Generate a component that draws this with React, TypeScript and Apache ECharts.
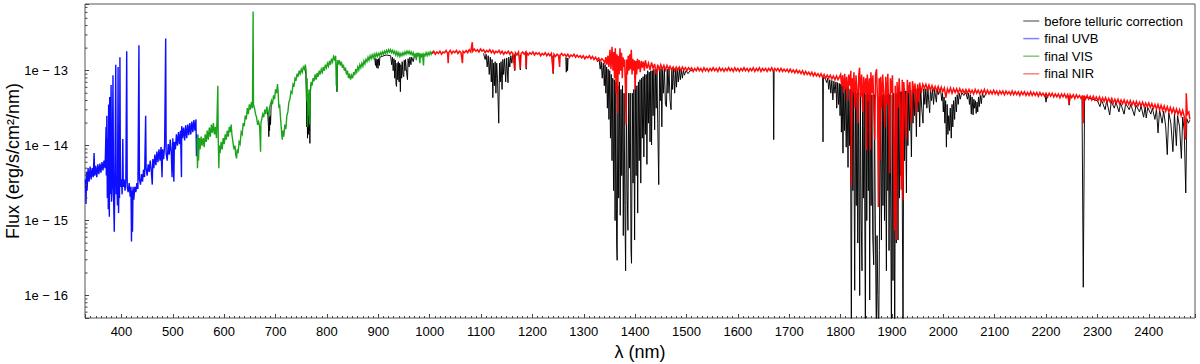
import React, { useEffect, useRef } from "react";
import * as echarts from "echarts";

// Axis extents (wavelength in nm, log10 of flux in erg/s/cm²/nm)
const X_MIN = 329;
const X_MAX = 2490;
const Y_MIN = -16.3;
const Y_MAX = -12.11;

// log-axis minor tick mantissas and decades
const minorMantissas = [2, 3, 4, 5, 6, 7, 8, 9];
const minorDecades = [-17, -16, -15, -14, -13];

const legendNames = ["before telluric correction", "final UVB", "final VIS", "final NIR"];

// [wavelength nm, log10 flux]
const uvbLogFlux = [
  [330, -14.45], [331, -14.78], [332, -14.35], [333, -14.6], [335, -14.3], [337, -14.48], [339, -14.28], [341, -14.45],
  [343, -14.3], [345, -14.42], [346.7, -14.1], [348, -14.4], [350, -14.27], [352, -14.42], [354, -14.25], [356, -14.38],
  [358, -14.24], [360, -14.36], [362, -14.22], [364, -14.33], [366, -14.2], [368, -14.3],
  [369, -14.05], [370, -13.75], [370.5, -14.4], [371.5, -13.6], [372.5, -14.7], [373.5, -13.9], [374.3, -14.85],
  [375.0, -13.45], [375.8, -14.6], [376.4, -14.95], [377.1, -13.35], [378, -14.65], [379.8, -13.19], [380.6, -14.75],
  [382, -14.5], [383.5, -13.06], [384.5, -14.65], [386, -15.15], [387, -14.5], [388.9, -12.92], [389.8, -14.65],
  [391, -14.45], [392.2, -14.8], [393.4, -12.95], [394.3, -14.9], [395.3, -14.5], [396.2, -14.7], [397.0, -12.82],
  [398, -14.55], [400, -14.45], [401.3, -14.65], [402.6, -13.91], [403.5, -14.55], [405, -14.45], [407, -14.6],
  [408.5, -14.45], [410.2, -12.74], [411.2, -14.55], [413, -14.62], [415, -14.5], [417, -14.68], [418.5, -14.55],
  [419.5, -15.28], [420.4, -14.6], [421.5, -15.15], [422.5, -14.55], [424, -14.72], [426, -14.55], [428, -14.62],
  [430, -14.5], [432, -14.58], [434.0, -12.66], [435, -14.45], [437, -14.52], [439, -14.38], [441, -14.48],
  [443, -14.32], [445, -14.42], [447.1, -13.6], [448, -14.3], [450, -14.4], [452, -14.25], [454, -14.35], [456, -14.2],
  [458, -14.33], [460, -14.52], [461, -14.18], [463, -14.3], [465, -14.12], [467, -14.26], [469, -14.08], [471, -14.22],
  [473, -14.05], [475, -14.2], [477, -14.02], [479, -14.42], [480, -14.05], [482, -14.18], [484, -14.0], [486.1, -12.57],
  [487, -14.1], [489, -14.2], [491, -13.98], [493, -14.12], [495, -13.92], [497, -14.1], [498.5, -14.42], [500, -13.9],
  [502, -14.48], [503, -13.95], [505, -14.05], [507, -13.85], [509, -14.0], [511, -13.82], [513, -13.98], [515, -13.8],
  [516.8, -14.42], [517.3, -13.74], [519, -13.9], [521, -13.76], [523, -13.93], [525, -13.73], [527, -13.9], [529, -13.72],
  [531, -13.86], [533, -13.7], [535, -13.85], [537, -13.68], [539, -13.82], [541, -13.66], [543, -13.8], [545, -13.65],
  [546, -14.14], [547, -13.85],
];

const visLogFlux = [
  [547, -13.9], [548, -14.3], [549, -13.85], [550, -14.2], [551.5, -13.9], [553, -14.05], [555, -13.88], [557, -14.0],
  [559, -13.9], [561, -14.02], [563, -13.85], [565, -13.95], [567, -13.8], [569, -13.92], [571, -13.76], [573, -13.88],
  [575, -13.72], [577, -13.83], [579, -13.7], [581, -13.85], [583, -13.75], [585, -13.9], [587.6, -13.2], [588.5, -13.95],
  [589.6, -14.3], [590.5, -14.0], [592, -14.1], [594, -13.95], [596, -14.05], [598, -13.9], [600, -13.98], [602, -13.85],
  [604, -13.92], [606, -13.8], [608, -13.88], [610, -13.75], [612, -13.82], [613.5, -13.72], [615, -13.85], [617, -13.95],
  [619, -14.05], [621, -14.0], [622.5, -14.12], [624, -14.17], [625.5, -14.05], [627, -14.1], [629, -13.95], [631, -13.98],
  [633, -13.82], [635, -13.85], [637, -13.7], [639, -13.74], [641, -13.6], [643, -13.65], [645, -13.5], [647, -13.58],
  [649, -13.45], [651, -13.52], [653, -13.42], [655, -13.5], [656.3, -12.21], [657, -13.45], [659, -13.5], [661, -13.58],
  [663, -13.62], [665, -13.72], [667, -13.68], [669, -13.75], [670.8, -14.08], [671.5, -13.7], [673, -13.65], [675, -13.58],
  [677, -13.62], [679, -13.52], [681, -13.58], [683, -13.48], [685, -13.55], [687, -13.62], [688, -13.5], [690, -13.45],
  [692, -13.4], [694, -13.45], [696, -13.33], [698, -13.38], [700, -13.25], [702, -13.3], [703.7, -13.18], [705, -13.28],
  [706.5, -13.5], [708, -13.45], [709.5, -13.62], [711, -13.75], [713, -13.92], [714.5, -13.8], [716, -13.88], [718, -13.72],
  [720, -13.78], [722, -13.6], [724, -13.55], [726, -13.42], [728, -13.38], [730, -13.28], [732, -13.3], [734, -13.18],
  [736, -13.2], [738, -13.1], [740, -13.12], [742, -13.04], [744, -13.08], [746, -13.0], [748, -13.04], [750, -12.98],
  [752, -13.02], [754, -12.95], [756, -12.98], [758, -12.92], [759.5, -13.0], [760.5, -13.4], [761.5, -13.1], [762.3, -13.75],
  [763, -13.3], [764, -13.6], [765, -13.25], [766.5, -13.72], [767.5, -13.3], [769, -13.15], [771, -13.2], [773, -13.1],
  [775, -13.14], [777, -13.05], [779, -13.12], [781, -13.03], [783, -13.08], [785, -13.0], [787, -13.05], [789, -12.98],
  [791, -13.02], [793, -12.95], [795, -13.0], [797, -12.92], [799, -12.96], [801, -12.9], [803, -12.94], [805, -12.87],
  [807, -12.92], [809, -12.84], [811, -12.88], [813, -12.81], [815, -12.85], [817, -12.8], [818.3, -13.2], [819, -12.9],
  [819.5, -13.28], [820.5, -12.86], [822, -12.92], [824, -12.86], [826, -12.93], [828, -12.88], [830, -12.96], [832, -12.92],
  [834, -13.0], [836, -12.96], [838, -13.05], [840, -13.0], [842, -13.1], [844, -13.04], [846, -13.12], [848, -13.06],
  [850, -13.1], [852, -13.02], [854, -13.06], [856, -12.98], [858, -13.02], [860, -12.95], [862, -12.99], [864, -12.92],
  [866, -12.96], [868, -12.9], [870, -12.94], [872, -12.87], [874, -12.91], [876, -12.85], [878, -12.88], [880, -12.82],
  [882, -12.86], [884, -12.8], [886, -12.84], [888, -12.79], [890, -12.83], [892, -12.78], [894, -12.82], [896, -12.77],
  [898, -12.81], [900, -12.77], [902, -12.8], [904, -12.76], [906, -12.79], [908, -12.75], [910, -12.78], [912, -12.74],
  [914, -12.77], [916, -12.73], [918, -12.76], [920, -12.72], [922, -12.75], [924, -12.72], [926, -12.76], [928, -12.73],
  [930, -12.77], [932, -12.74], [934, -12.79], [936, -12.75], [938, -12.8], [940, -12.76], [942, -12.81], [944, -12.77],
  [946, -12.8], [948, -12.76], [950, -12.79], [952, -12.75], [954, -12.78], [956, -12.74], [958, -12.77], [960, -12.74],
  [962, -12.78], [964, -12.75], [966, -12.79], [968, -12.76], [970, -12.82], [972, -12.77], [974, -12.86], [975, -12.76],
  [977, -12.8], [979, -12.76], [981, -12.9], [982, -12.77], [984, -12.81], [986, -12.77], [988, -12.93], [989, -12.78],
  [991, -12.8], [993, -12.76], [995, -12.8], [997, -12.76], [999, -12.79], [1001, -12.75], [1003, -12.78], [1005, -12.75],
  [1007, -12.77],
];

const nirLogFlux = [
  [1005, -12.77], [1008, -12.74], [1011, -12.78], [1014, -12.75], [1017, -12.77], [1020, -12.74], [1023, -12.78],
  [1026, -12.75], [1029, -12.76], [1032, -12.73], [1035, -12.77], [1036, -12.9], [1037, -12.76], [1040, -12.73],
  [1043, -12.77], [1046, -12.74], [1049, -12.76], [1052, -12.73], [1055, -12.77], [1058, -12.74], [1061, -12.76],
  [1063.8, -12.9], [1065, -12.74], [1068, -12.76], [1071, -12.73], [1074, -12.76], [1077, -12.72], [1080, -12.75],
  [1083, -12.62], [1084, -12.74], [1087, -12.71], [1090, -12.74], [1093, -12.72], [1096, -12.75], [1099, -12.71],
  [1102, -12.74], [1105, -12.72], [1108, -12.76], [1111, -12.73], [1114, -12.75], [1117, -12.72], [1120, -12.76],
  [1123, -12.73], [1126, -12.77], [1129, -12.74], [1132, -12.76], [1135, -12.73], [1138, -12.77], [1141, -12.74],
  [1144, -12.78], [1147, -12.75], [1150, -12.77], [1153, -12.74], [1156, -12.78], [1159, -12.75], [1162, -12.77],
  [1165.6, -12.99], [1167, -12.76], [1170, -12.79], [1173, -12.75], [1176.5, -12.97], [1178, -12.77], [1181, -12.75],
  [1184, -12.78], [1187, -12.75], [1188, -12.96], [1189, -12.76], [1192, -12.79], [1195, -12.76], [1198, -12.78],
  [1201, -12.75], [1204, -12.79], [1207, -12.76], [1210, -12.78], [1213, -12.76], [1216, -12.8], [1219, -12.77],
  [1222, -12.79], [1225, -12.76], [1228, -12.8], [1231, -12.77], [1234, -12.8], [1237, -12.77], [1240.5, -13.03],
  [1242, -12.78], [1245, -12.81], [1248, -12.78], [1251, -12.8], [1253, -12.95], [1254, -12.79], [1257, -12.77],
  [1260, -12.8], [1263, -12.78], [1266, -12.81], [1269, -12.78], [1272, -12.82], [1275, -12.79], [1278, -12.81],
  [1281, -12.78], [1284, -12.82], [1287, -12.79], [1290, -12.82], [1293, -12.8], [1296, -12.83], [1299, -12.8],
  [1302, -12.84], [1305, -12.81], [1308, -12.83], [1311, -12.8], [1314, -12.84], [1317, -12.81], [1320, -12.85],
  [1323, -12.82], [1326, -12.86], [1329, -12.83], [1332, -12.87], [1335, -12.84], [1338, -12.86],
  [1341, -12.9], [1343, -12.82], [1345, -12.92], [1347, -12.8], [1349, -12.95], [1351, -12.72],
  [1353, -12.98], [1355, -12.68], [1357, -13.0], [1358.5, -12.75], [1360, -13.1], [1361.5, -12.7], [1363, -13.3],
  [1364.5, -12.78], [1366, -13.57], [1367, -12.8], [1369, -13.05], [1370.5, -12.7], [1372, -13.0], [1373.5, -12.76],
  [1375, -13.1], [1376.5, -12.82], [1378, -12.95], [1379.5, -12.85], [1381, -13.2], [1382.5, -13.72], [1383.5, -12.85],
  [1385, -13.05], [1386.5, -12.8], [1388, -13.0], [1389.5, -12.78], [1391, -12.98], [1392.5, -12.72], [1394, -13.05],
  [1395.5, -12.84], [1397, -13.0], [1398.5, -12.86], [1400, -13.25], [1401.5, -12.87], [1403, -13.05], [1404.5, -12.84],
  [1406, -12.98], [1408, -12.86], [1410, -13.02], [1412, -12.87], [1414, -12.96], [1416, -12.88], [1418, -13.0],
  [1420, -12.86], [1423, -12.97], [1426, -12.9], [1429, -12.99], [1432, -12.89], [1435, -12.97], [1438, -12.91],
  [1441, -13.05], [1444, -12.92], [1447, -12.99], [1450, -12.92], [1453, -12.98], [1456, -12.93], [1459, -12.99],
  [1462, -12.93], [1465, -12.98], [1468, -12.94], [1471, -12.99], [1474, -12.95], [1477, -13.0], [1480, -12.95],
  [1483, -12.99], [1486, -12.95], [1489, -13.0], [1492, -12.95], [1495, -12.99], [1498, -12.96], [1501, -13.0],
  [1504, -12.96], [1507, -12.99], [1510, -12.96], [1513, -13.01], [1516, -12.97], [1519, -13.0], [1522, -12.96],
  [1525, -13.0], [1528, -12.97], [1531, -13.01], [1534, -12.96], [1537, -13.0], [1540, -12.97], [1543, -13.01],
  [1546, -12.97], [1549, -13.0], [1552, -12.96], [1555, -13.0], [1558, -12.97], [1561, -13.01], [1564, -12.96],
  [1567, -13.0], [1570, -12.97], [1573, -13.01], [1576, -12.97], [1579, -13.0], [1582, -12.96], [1585, -13.0],
  [1588, -12.97], [1591, -13.01], [1594, -12.96], [1597, -13.0], [1600, -12.97], [1603, -13.01], [1606, -12.97],
  [1609, -13.0], [1612, -12.96], [1615, -13.0], [1618, -12.97], [1621, -13.01], [1624, -12.97], [1627, -13.0],
  [1630, -12.96], [1633, -13.01], [1636, -12.97], [1639, -13.0], [1642, -12.96], [1645, -13.01], [1648, -12.97],
  [1651, -13.0], [1654, -12.97], [1657, -13.01], [1660, -12.97], [1663, -13.0], [1666, -12.96], [1669, -13.01],
  [1672, -12.97], [1675, -13.0], [1678, -12.97], [1681, -13.01], [1684, -12.97], [1687, -13.01], [1690, -12.98],
  [1693, -13.01], [1696, -12.98], [1699, -13.02], [1702, -12.98], [1705, -13.02], [1708, -12.99], [1711, -13.03],
  [1714, -12.99], [1717, -13.03], [1720, -13.0], [1723, -13.04], [1726, -13.0], [1729, -13.05], [1732, -13.01],
  [1735, -13.05], [1738, -13.02], [1741, -13.06], [1744, -13.02], [1747, -13.07], [1750, -13.03], [1753, -13.07],
  [1756, -13.04], [1759, -13.08], [1762, -13.04], [1765, -13.09], [1768, -13.05], [1771, -13.1], [1774, -13.06],
  [1777, -13.1], [1780, -13.06], [1783, -13.11], [1786, -13.07], [1789, -13.12], [1792, -13.07], [1795, -13.12],
  [1798, -13.08],
  [1800, -13.05], [1802, -13.2], [1804, -13.06], [1806, -13.3], [1808, -13.04], [1810, -13.25], [1812, -13.08],
  [1814, -13.4], [1816, -13.05], [1818, -13.2], [1820, -13.0], [1821, -14.53], [1822.5, -13.1], [1824, -13.3],
  [1826, -13.02], [1828, -13.5], [1830, -13.06], [1832, -13.25], [1834, -13.7], [1835.5, -13.05], [1837, -12.96],
  [1839, -13.35], [1841, -13.05], [1843, -13.55], [1845, -13.08], [1847, -13.3], [1849, -13.1], [1850.5, -14.06],
  [1852, -13.05], [1854, -13.4], [1856, -13.1], [1857.5, -14.06], [1859, -13.02], [1861, -13.3], [1863, -13.06],
  [1865, -13.6], [1866.5, -13.92], [1868, -13.05], [1870, -12.98], [1872, -13.4], [1873.5, -14.82], [1875, -13.1],
  [1876.5, -14.19], [1878, -13.08], [1880, -13.5], [1882, -13.05], [1884, -13.3], [1886, -13.75], [1888, -13.08],
  [1890, -13.45], [1892, -13.04], [1894, -13.6], [1895.5, -14.37], [1897, -13.1], [1899, -13.3], [1901, -13.06],
  [1903, -13.9], [1905, -15.13], [1906.5, -13.2], [1908.5, -15.26], [1910, -13.15], [1912, -13.5], [1914, -13.1],
  [1916, -13.4], [1918, -14.59], [1920, -13.12], [1921.5, -14.73], [1923, -13.15], [1925, -13.35], [1928, -13.92],
  [1930, -13.12], [1932, -13.3], [1935, -13.15], [1938, -13.7], [1940, -13.14], [1943, -13.3], [1945, -13.17],
  [1947.5, -13.57], [1950, -13.18], [1952, -13.42], [1954, -13.16], [1957, -13.3], [1960, -13.18],
  [1963, -13.23], [1966, -13.18], [1969, -13.25], [1972, -13.19], [1975, -13.26], [1978, -13.2], [1981, -13.26],
  [1984, -13.21], [1987, -13.27], [1990, -13.21], [1993, -13.28], [1996, -13.22], [1999, -13.28], [2002, -13.23],
  [2005, -13.36], [2008, -13.24], [2011, -13.29], [2014, -13.23], [2017, -13.3], [2020, -13.24], [2023, -13.29],
  [2026, -13.24], [2029, -13.3], [2032, -13.24], [2035, -13.29], [2038, -13.25], [2041, -13.3], [2044, -13.25],
  [2047, -13.3], [2050, -13.25], [2053, -13.3], [2056, -13.26], [2059, -13.31], [2062, -13.25], [2065, -13.3],
  [2068, -13.26], [2071, -13.31], [2074, -13.26], [2077, -13.3], [2080, -13.25], [2083, -13.31], [2086, -13.26],
  [2089, -13.31], [2092, -13.27], [2095, -13.31], [2098, -13.26], [2101, -13.31], [2104, -13.27], [2107, -13.32],
  [2110, -13.27], [2113, -13.31], [2116, -13.27], [2119, -13.32], [2122, -13.27], [2125, -13.31], [2128, -13.28],
  [2131, -13.32], [2134, -13.27], [2137, -13.32], [2140, -13.28], [2143, -13.32], [2146, -13.28], [2149, -13.33],
  [2152, -13.28], [2155, -13.32], [2158, -13.28], [2161, -13.33], [2164, -13.29], [2167, -13.33], [2170, -13.28],
  [2173, -13.33], [2176, -13.29], [2179, -13.33], [2182, -13.29], [2185, -13.34], [2188, -13.29], [2191, -13.33],
  [2194, -13.3], [2197, -13.34], [2200, -13.3], [2203, -13.35], [2206, -13.3], [2209, -13.34], [2212, -13.3],
  [2215, -13.35], [2218, -13.31], [2221, -13.35], [2224, -13.31], [2227, -13.36], [2230, -13.31], [2233, -13.35],
  [2236, -13.31], [2239, -13.36], [2242, -13.32], [2245, -13.44], [2247, -13.32], [2250, -13.36], [2253, -13.32],
  [2256, -13.37], [2259, -13.32], [2262, -13.36], [2265, -13.33], [2268, -13.37], [2271, -13.33], [2272.5, -13.7],
  [2274, -13.33], [2277, -13.38], [2280, -13.33], [2283, -13.38], [2286, -13.34], [2289, -13.39], [2292, -13.34],
  [2295, -13.39], [2298, -13.35], [2301, -13.4], [2304, -13.35], [2307, -13.41], [2310, -13.36], [2313, -13.41],
  [2316, -13.36], [2319, -13.42], [2322, -13.37], [2325, -13.42], [2328, -13.37], [2331, -13.43], [2334, -13.38],
  [2337, -13.43], [2340, -13.38], [2343, -13.44], [2346, -13.39], [2349, -13.44], [2352, -13.39], [2355, -13.45],
  [2358, -13.4], [2361, -13.45], [2364, -13.4], [2367, -13.46], [2370, -13.41], [2373, -13.46], [2376, -13.41],
  [2379, -13.47], [2382, -13.42], [2385, -13.47], [2388, -13.42], [2391, -13.48], [2394, -13.43], [2397, -13.48],
  [2400, -13.43], [2403, -13.49], [2406, -13.44], [2409, -13.5], [2412, -13.45], [2415, -13.51], [2418, -13.45],
  [2421, -13.52], [2424, -13.46], [2427, -13.53], [2430, -13.47], [2433, -13.54], [2436, -13.48], [2439, -13.55],
  [2442, -13.49], [2445, -13.56], [2448, -13.5], [2451, -13.57], [2454, -13.51], [2457, -13.58], [2460, -13.52],
  [2463, -13.6], [2466, -13.53], [2469, -13.61], [2472, -13.92], [2473, -13.3], [2475, -13.58], [2478, -13.55],
  [2480, -13.65],
];

// before telluric correction; null values mark gaps where it lies under the final spectra
const rawLogFlux = [
  [684, -13.55], [685, -13.6], [686.2, -13.75], [686.9, -13.88], [687.6, -13.62], [688.3, -13.8], [689.2, -13.6],
  [690.2, -13.72], [691.5, -13.45], [692.5, -13.42], [693, null],
  [757, -12.97], [759, -13.05], [760, -13.3], [760.8, -13.75], [761.5, -13.45], [762.2, -13.9], [763, -13.55],
  [763.8, -13.85], [764.6, -13.5], [765.4, -13.8], [766.1, -13.55], [766.8, -13.97], [767.6, -13.35], [768.5, -13.2],
  [769.5, -13.18], [770, null],
  [818.8, -12.95], [819.5, -13.28], [820.2, -12.92], [821, null],
  [893, -12.83], [894.5, -12.93], [895.5, -12.84], [897, -12.96], [898, -12.85], [899.5, -12.97], [900.5, -12.84],
  [902, -12.93], [903, -12.82], [915, -12.79], [924, -12.8], [926, -12.92], [927.5, -12.82], [929, -13.0], [930.5, -12.84],
  [932, -13.1], [933, -12.86], [934.5, -13.18], [935.5, -13.21], [936.5, -12.9], [938, -13.12], [939, -12.88],
  [940.5, -13.15], [941.5, -12.9], [943, -13.28], [944, -12.92], [945.5, -13.1], [946.5, -12.88], [948, -13.05],
  [949.5, -13.08], [950.5, -12.86], [952, -13.0], [953, -12.85], [955, -13.02], [956.8, -13.12], [958, -12.84],
  [960, -12.95], [961.5, -12.82], [963.5, -12.92], [965, -12.82], [968, -12.88], [970, -12.81], [971, null],
  [1105, -12.77], [1108, -12.85], [1110, -12.78], [1112, -12.95], [1114, -12.8], [1116, -13.05], [1118, -12.82],
  [1120, -13.15], [1121.5, -12.85], [1123, -13.36], [1124.5, -12.9], [1126, -13.2], [1127.5, -12.88], [1129, -13.3],
  [1130.5, -12.9], [1132, -13.1], [1134.5, -13.7], [1136, -12.9], [1137.5, -13.15], [1139, -12.88], [1141, -13.25],
  [1142.5, -12.85], [1144, -13.05], [1146, -12.84], [1148, -13.15], [1150, -12.83], [1152.5, -13.16], [1154, -12.82],
  [1156, -12.95], [1158, -12.8], [1160, -12.9], [1162, -12.78], [1163, null],
  [1165, -12.78], [1165.6, -13.0], [1166.5, -12.79], [1167, null],
  [1176, -12.79], [1176.5, -12.99], [1177, -12.79], [1177.5, null],
  [1187.5, -12.78], [1188, -12.98], [1188.5, -12.78], [1189, null],
  [1240, -12.8], [1240.5, -13.04], [1241, -12.8], [1241.5, null],
  [1265, -12.82], [1266, -13.02], [1267.5, -12.83], [1268.5, -13.0], [1269.5, -12.83], [1270, null],
  [1326, -12.88], [1330, -12.86], [1332, -12.98], [1334, -12.88], [1336, -13.1], [1338, -12.9], [1340, -13.2],
  [1341.5, -12.92], [1343, -13.3], [1344.5, -12.95], [1346, -13.5], [1347.5, -12.98], [1349, -13.65], [1350.5, -13.0],
  [1352, -13.9], [1353.5, -13.05], [1355, -14.2], [1356.5, -13.1], [1358, -14.6], [1359.5, -13.12], [1361, -15.0],
  [1362.5, -13.15], [1364, -15.3], [1365, -15.53], [1366.5, -13.2], [1368, -14.7], [1369.5, -13.15], [1371, -14.93],
  [1372.5, -13.25], [1374, -14.4], [1375.5, -13.2], [1377, -15.2], [1378.5, -13.3], [1380, -14.8], [1381.5, -15.67],
  [1383, -13.3], [1384.5, -14.6], [1386, -15.13], [1387.5, -13.3], [1389, -14.3], [1390.5, -13.3], [1392, -15.4],
  [1393, -15.57], [1394.5, -13.3], [1396, -14.5], [1397.5, -13.25], [1399, -15.26], [1400.5, -13.2], [1402, -14.4],
  [1403.5, -13.2], [1405, -14.9], [1406.5, -13.15], [1408, -14.2], [1409.5, -13.12], [1411, -14.5], [1412.5, -13.1],
  [1414, -13.9], [1415.5, -13.08], [1417, -14.15], [1418.5, -13.05], [1420, -13.85], [1421.5, -13.05], [1423, -14.25],
  [1424.5, -13.0], [1426, -13.7], [1427.5, -13.02], [1429, -13.95], [1430.5, -13.0], [1432, -13.99], [1433.5, -13.0],
  [1435, -13.6], [1436.5, -12.98], [1438, -13.79], [1439.5, -13.0], [1441, -13.5], [1442.5, -12.98], [1444, -13.7],
  [1446, -14.52], [1447.5, -12.98], [1449, -13.4], [1450.5, -12.97], [1452, -13.75], [1453.5, -12.97], [1455, -13.3],
  [1457, -12.97], [1459, -13.45], [1461, -13.48], [1462.5, -12.98], [1464, -13.3], [1466, -12.97], [1468, -13.4],
  [1470, -13.52], [1471.5, -12.98], [1473, -13.25], [1475, -12.97], [1477, -13.3], [1479, -12.98], [1480.5, -13.22],
  [1482, -12.98], [1484, -13.15], [1486, -12.98], [1488, -13.12], [1490, -12.99], [1492, -13.1], [1494, -12.99],
  [1496, -13.06], [1499, -13.0], [1503, -13.04], [1507, -13.0], [1512, -13.0], [1513, null],
  [1669, -12.99], [1669.8, -13.92], [1670.6, -13.0], [1671, null],
  [1765, -13.08], [1765.8, -13.95], [1766.6, -13.09],
  [1770, -13.1], [1773, -13.16], [1775, -13.1], [1777, -13.25], [1779, -13.12], [1781, -13.3], [1783, -13.13],
  [1785, -13.39], [1787, -13.14], [1789, -13.3], [1791, -13.15], [1792.5, -13.5], [1794, -13.16], [1796, -13.45],
  [1797.5, -13.17], [1799, -13.6], [1800.5, -13.18], [1801.6, -13.82], [1803, -13.2], [1804.7, -14.1], [1806, -13.2],
  [1807.5, -13.8], [1809, -13.22], [1811, -14.02], [1812.5, -13.22], [1814.5, -14.29], [1816, -13.24], [1817.5, -14.0],
  [1819, -13.25], [1821, -16.6], [1822.5, -13.26], [1824, -14.6], [1825.5, -13.28], [1827.5, -15.93], [1829, -13.28],
  [1830.5, -14.8], [1832, -13.3], [1833.5, -15.3], [1835, -13.28], [1837.2, -16.0], [1838.5, -13.3], [1840, -14.9],
  [1841.7, -15.67], [1843, -13.3], [1844.5, -14.7], [1846, -13.3], [1848.3, -16.6], [1849.5, -13.32], [1851, -15.0],
  [1852.5, -13.3], [1854, -14.6], [1855.3, -13.32], [1856.7, -16.06], [1858, -13.3], [1859.5, -14.8], [1861, -13.32],
  [1862.5, -15.2], [1864.5, -15.59], [1866, -13.32], [1867.5, -14.9], [1869.7, -16.6], [1871, -15.2], [1872.5, -16.0],
  [1874.2, -16.6], [1875.5, -15.4], [1877, -13.34], [1879.5, -15.26], [1881, -13.32], [1882.5, -14.8], [1884, -13.32],
  [1885.5, -15.0], [1887, -13.34], [1889.2, -15.67], [1890.5, -13.32], [1892, -14.6], [1893.5, -13.3], [1894.3, -15.4],
  [1896, -13.32], [1897.5, -14.7], [1899, -16.6], [1900.5, -13.32], [1902, -15.8], [1903.5, -13.3], [1905.4, -16.6],
  [1907, -13.32], [1908.5, -15.3], [1910, -13.3], [1911.8, -15.26], [1913, -13.3], [1914.5, -14.7], [1916, -13.28],
  [1917.5, -14.4], [1919, -13.28], [1921.6, -16.6], [1923, -13.28], [1924.5, -14.2], [1926, -13.27], [1928.2, -14.63],
  [1929.5, -13.27], [1931, -14.0], [1932.5, -13.27], [1934, -13.8], [1935.5, -13.26], [1937.9, -14.15], [1939.5, -13.26],
  [1941, -13.7], [1942.5, -13.25], [1944, -13.6], [1945.5, -13.25], [1947.6, -13.88], [1949, -13.24], [1951, -13.55],
  [1952.5, -13.24], [1954, -13.75], [1956, -13.23], [1958, -13.5], [1960.5, -13.7], [1962, -13.24], [1964, -13.45],
  [1966, -13.24], [1968, -13.5], [1970, -13.23], [1972, -13.45], [1973.5, -13.56], [1975, -13.24], [1977, -13.4],
  [1979, -13.25], [1981, -13.45], [1983, -13.25], [1985, -13.35], [1986.5, -13.42], [1988, -13.25], [1990, -13.32],
  [1993, -13.25],
  [1995, -13.27], [1997, -13.4], [1998.5, -13.3], [2000, -13.55], [2001.5, -13.35], [2003, -13.7], [2004.5, -13.4],
  [2006, -14.02], [2007.5, -13.45], [2009, -13.85], [2010.5, -13.6], [2012, -13.8], [2013.5, -13.5], [2015.5, -13.9],
  [2017, -13.45], [2018.5, -13.75], [2020, -13.4], [2022, -13.65], [2023.5, -13.35], [2025.5, -13.55], [2027, -13.32],
  [2029, -13.45], [2031, -13.3], [2033, -13.38], [2036, -13.29], [2040, -13.33], [2044, -13.29], [2047, -13.38],
  [2049, -13.3], [2051, -13.45], [2052.5, -13.32], [2054.5, -13.58], [2056, -13.35], [2058, -13.59], [2059.5, -13.38],
  [2061, -13.5], [2062.5, -13.4], [2064, -13.57], [2065.7, -13.42], [2067, -13.55], [2068.5, -13.35], [2070, -13.48],
  [2072, -13.33], [2074, -13.44], [2076, -13.3], [2079, -13.36], [2083, -13.3], [2084, null],
  [2198, -13.32], [2200, -13.42], [2202, -13.32], [2203, null],
  [2244, -13.33], [2245, -13.46], [2247, -13.33], [2248, null],
  [2270, -13.35], [2272.5, -15.89], [2275, -13.35], [2300, -13.4], [2305, -13.48], [2308, -13.39],
  [2315, -13.52], [2318, -13.4], [2324, -13.59], [2327, -13.41], [2333, -13.5], [2336, -13.42], [2342, -13.55],
  [2345, -13.43], [2352, -13.58], [2355, -13.44], [2362, -13.52], [2365, -13.45], [2372, -13.6], [2375, -13.46],
  [2382, -13.55], [2385, -13.47], [2390, -13.62], [2393, -13.48], [2395, -13.63], [2398, -13.49], [2404, -13.58],
  [2407, -13.5], [2412, -13.65], [2415, -13.51], [2418, -13.83], [2421, -13.52], [2426, -13.7], [2429, -13.54],
  [2433, -13.75], [2436, -14.12], [2439, -13.56], [2443, -13.7], [2447, -14.08], [2450, -13.58], [2453.7, -14.0],
  [2456, -13.6], [2460, -13.75], [2463.5, -14.17], [2466, -13.62], [2469, -13.8], [2472, -14.63], [2474, -13.64],
  [2477, -13.7], [2480, -13.66],
];

const FONT = '"Liberation Sans", Arial, sans-serif';
const AXIS_COLOR = "#444";

export default function App() {
  const ref = useRef<HTMLDivElement>(null);

  useEffect(() => {
    if (!ref.current) return;
    const chart = echarts.init(ref.current, null, { renderer: "svg" });

    const minorTicks: number[][] = [];
    for (const d of minorDecades) {
      for (const m of minorMantissas) {
        const v = d + Math.log10(m);
        if (v > Y_MIN && v < Y_MAX) minorTicks.push([X_MIN, v]);
      }
    }

    const lineSeries = (name: string, data: any[], color: string, width: number) => ({
      name,
      type: "line",
      data,
      showSymbol: false,
      symbol: "none",
      clip: true,
      silent: true,
      connectNulls: false,
      lineStyle: { color, width, opacity: 0.95, join: "miter" },
      itemStyle: { color },
      emphasis: { disabled: true },
    });

    chart.setOption({
      animation: false,
      grid: {
        left: 85,
        right: 5,
        top: 4,
        bottom: 46,
        show: true,
        borderColor: "#555",
        borderWidth: 1,
        backgroundColor: "transparent",
      },
      legend: {
        orient: "vertical",
        right: 12,
        top: 9,
        icon: "rect",
        itemWidth: 16,
        itemHeight: 1.5,
        itemGap: 3.6,
        selectedMode: false,
        textStyle: { fontSize: 13, fontFamily: FONT, color: "#000", lineHeight: 14 },
        data: [
          { name: legendNames[0], itemStyle: { color: "#808080" } },
          { name: legendNames[1], itemStyle: { color: "#8080ff" } },
          { name: legendNames[2], itemStyle: { color: "#80c880" } },
          { name: legendNames[3], itemStyle: { color: "#ff8080" } },
        ],
      },
      xAxis: {
        type: "value",
        min: X_MIN,
        max: X_MAX,
        splitNumber: 21,
        axisLine: { show: false },
        axisTick: { show: true, inside: true, length: 4, lineStyle: { color: AXIS_COLOR } },
        minorTick: { show: true, splitNumber: 10, length: 2, lineStyle: { color: AXIS_COLOR } },
        splitLine: { show: false },
        minorSplitLine: { show: false },
        axisLabel: {
          margin: 7,
          fontSize: 13,
          fontFamily: FONT,
          color: "#000",
          showMinLabel: false,
          showMaxLabel: false,
          formatter: (v: number) => String(Math.round(v)),
        },
      },
      yAxis: {
        type: "value",
        min: Y_MIN,
        max: Y_MAX,
        splitNumber: 4,
        axisLine: { show: false },
        axisTick: { show: true, inside: true, length: 4, lineStyle: { color: AXIS_COLOR } },
        splitLine: { show: false },
        axisLabel: {
          margin: 17,
          fontSize: 13,
          fontFamily: FONT,
          color: "#000",
          formatter: (v: number) =>
            Math.abs(v - Math.round(v)) < 1e-6 ? `1e \u2212 ${Math.abs(Math.round(v))}` : "",
        },
      },
      graphic: [
        {
          type: "text",
          x: 13,
          y: 161,
          rotation: Math.PI / 2,
          style: {
            text: "Flux (erg/s/cm\u00b2/nm)",
            font: `18px ${FONT}`,
            fill: "#000",
            align: "center",
            verticalAlign: "middle",
          },
        },
        {
          type: "text",
          x: 640,
          y: 352,
          style: {
            text: "\u03bb (nm)",
            font: `18px ${FONT}`,
            fill: "#000",
            align: "center",
            verticalAlign: "middle",
          },
        },
      ],
      series: [
        lineSeries(legendNames[0], rawLogFlux, "#000000", 1),
        lineSeries(legendNames[1], uvbLogFlux, "#0000ff", 1.4),
        lineSeries(legendNames[2], visLogFlux, "#10a010", 1.4),
        lineSeries(legendNames[3], nirLogFlux, "#ff0000", 1.5),
        {
          type: "custom",
          coordinateSystem: "cartesian2d",
          silent: true,
          data: minorTicks,
          z: 10,
          renderItem: (_params: any, api: any) => {
            const p = api.coord([api.value(0), api.value(1)]);
            return {
              type: "line",
              shape: { x1: p[0], y1: p[1], x2: p[0] + 2.5, y2: p[1] },
              style: { stroke: AXIS_COLOR, lineWidth: 1 },
            };
          },
        },
      ],
    });

    return () => chart.dispose();
  }, []);

  return (
    <div
      ref={ref}
      style={{ position: "absolute", left: 0, top: 0, width: 1200, height: 364 }}
    />
  );
}
